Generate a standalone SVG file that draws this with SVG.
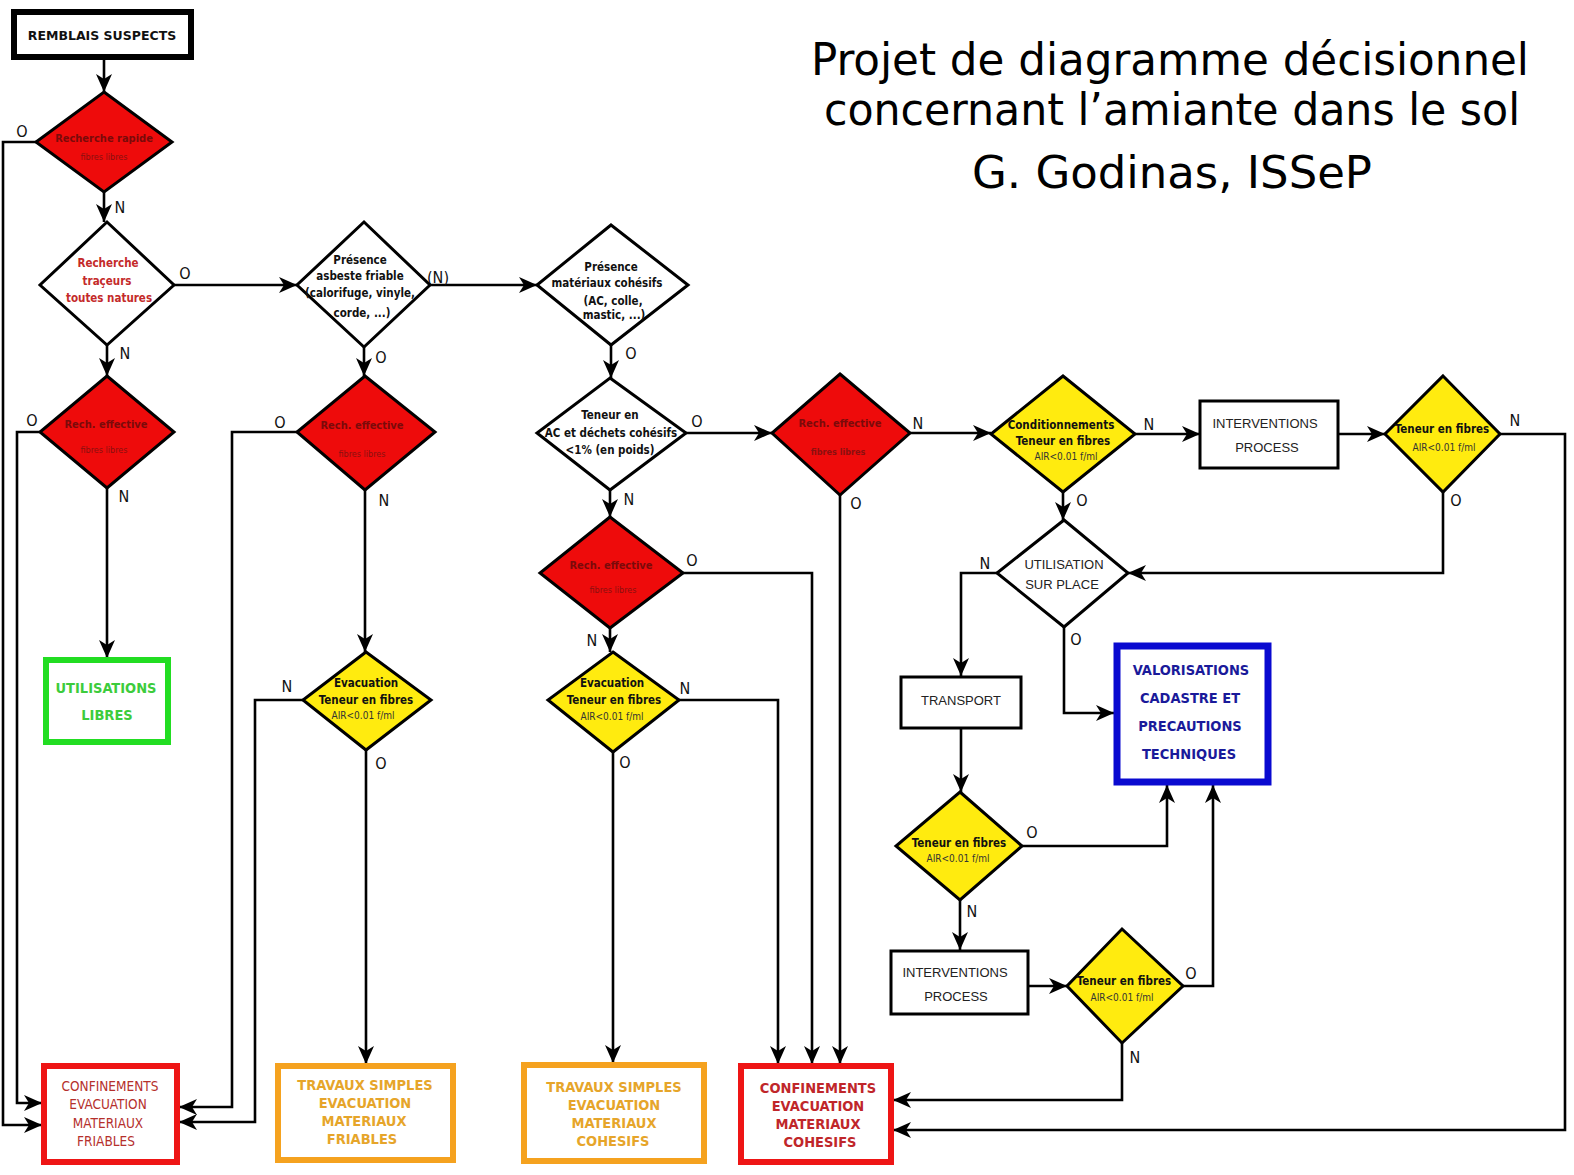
<svg xmlns="http://www.w3.org/2000/svg" width="1574" height="1175" viewBox="0 0 1574 1175">
<style>
.dia{stroke:#000;stroke-width:3;stroke-linejoin:miter}
.red{fill:#ee0b0b}
.yel{fill:#ffeb0f}
.wht{fill:#fff}
.box{fill:#fff;stroke:#000;stroke-width:3}
.conn{fill:none;stroke:#000;stroke-width:2.6;marker-end:url(#ah)}
text{font-family:"DejaVu Sans Condensed","DejaVu Sans",sans-serif;text-anchor:middle}
.b{font-weight:bold}
.rt{fill:#7a0a0a;font-size:11px}
.rs{fill:#8a1010;font-size:9px}
.k{fill:#111;font-size:11.5px;font-weight:bold}
.ys{fill:#333;font-size:10px}
.lab{font-family:"Liberation Sans",Arial,sans-serif;font-size:16px;fill:#111}
.n{font-family:"Liberation Sans Narrow","Liberation Sans",sans-serif;font-size:13px;fill:#222}
</style>
<defs>
<marker id="ah" markerUnits="userSpaceOnUse" markerWidth="20" markerHeight="18" refX="18" refY="8" orient="auto">
<path d="M0,0 L18,8 L0,16 L5,8 z" fill="#000"/>
</marker>
</defs>
<rect width="1574" height="1175" fill="#fff"/>

<g id="title" font-family="'DejaVu Sans',sans-serif" fill="#000">
<text x="1170" y="75" font-size="44" textLength="718" lengthAdjust="spacingAndGlyphs">Projet de diagramme décisionnel</text>
<text x="1172" y="125" font-size="44" textLength="696" lengthAdjust="spacingAndGlyphs">concernant l’amiante dans le sol</text>
<text x="1172" y="188" font-size="44" textLength="400" lengthAdjust="spacingAndGlyphs">G. Godinas, ISSeP</text>
</g>

<g id="connectors">
<path class="conn" d="M104,58 V92"/>
<path class="conn" d="M36,142 H3 V1125 H42"/>
<path class="conn" d="M104,192 V222"/>
<path class="conn" d="M174,285 H297"/>
<path class="conn" d="M107,345 V376"/>
<path class="conn" d="M40,432 H17 V1103 H42"/>
<path class="conn" d="M107,488 V658"/>
<path class="conn" d="M430,285 H537"/>
<path class="conn" d="M364,347 V376"/>
<path class="conn" d="M297,432 H232 V1107 H179"/>
<path class="conn" d="M365,490 V652"/>
<path class="conn" d="M303,700 H255 V1122 H179"/>
<path class="conn" d="M366,750 V1064"/>
<path class="conn" d="M611,345 V378"/>
<path class="conn" d="M686,433 H772"/>
<path class="conn" d="M610,490 V517"/>
<path class="conn" d="M683,573 H812 V1064"/>
<path class="conn" d="M610,628 V652"/>
<path class="conn" d="M679,700 H778 V1064"/>
<path class="conn" d="M613,752 V1063"/>
<path class="conn" d="M840,495 V1064"/>
<path class="conn" d="M910,433 H991"/>
<path class="conn" d="M1135,434 H1200"/>
<path class="conn" d="M1063,492 V520"/>
<path class="conn" d="M1338,434 H1385"/>
<path class="conn" d="M1500,434 H1565 V1130 H893"/>
<path class="conn" d="M1443,492 V573 H1128"/>
<path class="conn" d="M997,573 H961 V676"/>
<path class="conn" d="M1064,627 V713 H1114"/>
<path class="conn" d="M961,728 V792"/>
<path class="conn" d="M1022,846 H1167 V785"/>
<path class="conn" d="M960,900 V950"/>
<path class="conn" d="M1028,986 H1067"/>
<path class="conn" d="M1183,986 H1213 V785"/>
<path class="conn" d="M1122,1043 V1100 H893"/>
<g class="lab">
<text x="22" y="137">O</text>
<text x="120" y="213">N</text>
<text x="185" y="279">O</text>
<text x="125" y="359">N</text>
<text x="32" y="426">O</text>
<text x="124" y="502">N</text>
<text x="438" y="283">(N)</text>
<text x="381" y="363">O</text>
<text x="280" y="428">O</text>
<text x="384" y="506">N</text>
<text x="287" y="692">N</text>
<text x="381" y="769">O</text>
<text x="631" y="359">O</text>
<text x="697" y="427">O</text>
<text x="629" y="505">N</text>
<text x="692" y="566">O</text>
<text x="592" y="646">N</text>
<text x="685" y="694">N</text>
<text x="625" y="768">O</text>
<text x="856" y="509">O</text>
<text x="918" y="429">N</text>
<text x="1149" y="430">N</text>
<text x="1082" y="506">O</text>
<text x="1515" y="426">N</text>
<text x="1456" y="506">O</text>
<text x="985" y="569">N</text>
<text x="1076" y="645">O</text>
<text x="1032" y="838">O</text>
<text x="972" y="917">N</text>
<text x="1191" y="979">O</text>
<text x="1135" y="1063">N</text>
</g>
</g>

<g id="remblais">
<rect x="14" y="12" width="177" height="45" fill="#fff" stroke="#000" stroke-width="6"/>
<text x="102" y="40" class="b" font-size="12.5" fill="#111" style="font-family:'DejaVu Sans',sans-serif">REMBLAIS SUSPECTS</text>
</g>

<g id="d1">
<polygon class="dia red" points="104,92 172,142 104,192 36,142"/>
<text x="104" y="142" class="rt b">Recherche rapide</text>
<text x="104" y="160" class="rs">fibres libres</text>
</g>

<g id="d2">
<polygon class="dia wht" points="107,222 174,285 107,345 40,285"/>
<text x="108" y="267" class="b" font-size="11.5" fill="#c42a2a">Recherche</text>
<text x="107" y="285" class="b" font-size="11.5" fill="#c42a2a">traçeurs</text>
<text x="109" y="302" class="b" font-size="11.5" fill="#c42a2a">toutes natures</text>
</g>

<g id="d3">
<polygon class="dia red" points="107,376 174,432 107,488 40,432"/>
<text x="106" y="428" class="rt b">Rech. effective</text>
<text x="104" y="453" class="rs">fibres libres</text>
</g>

<g id="utilisations-libres">
<rect x="46" y="660" width="122" height="82" fill="#fff" stroke="#22dd22" stroke-width="6"/>
<text x="106" y="693" class="b" font-size="14.5" fill="#3ccc3c">UTILISATIONS</text>
<text x="107" y="720" class="b" font-size="14.5" fill="#3ccc3c">LIBRES</text>
</g>

<g id="conf-friables">
<rect x="44" y="1066" width="133" height="96" fill="#fff" stroke="#ee1515" stroke-width="6"/>
<g font-size="13.5" fill="#b5302c">
<text x="110" y="1091">CONFINEMENTS</text>
<text x="108" y="1109">EVACUATION</text>
<text x="108" y="1128">MATERIAUX</text>
<text x="106" y="1146">FRIABLES</text>
</g>
</g>

<g id="d4">
<polygon class="dia wht" points="364,222 430,285 364,347 297,285"/>
<text x="360" y="264" class="k">Présence</text>
<text x="360" y="280" class="k">asbeste friable</text>
<text x="360" y="297" class="k">(calorifuge, vinyle,</text>
<text x="362" y="317" class="k">corde, ...)</text>
</g>

<g id="d5">
<polygon class="dia red" points="365,376 435,432 365,490 297,432"/>
<text x="362" y="429" class="rt b">Rech. effective</text>
<text x="362" y="457" class="rs">fibres libres</text>
</g>

<g id="d6">
<polygon class="dia yel" points="366,652 431,700 366,750 303,700"/>
<text x="366" y="687" class="k">Evacuation</text>
<text x="366" y="704" class="k">Teneur en fibres</text>
<text x="363" y="719" class="ys">AIR&lt;0.01 f/ml</text>
</g>

<g id="travaux-friables">
<rect x="278" y="1066" width="175" height="94" fill="#fff" stroke="#f5a21f" stroke-width="6"/>
<g class="b" font-size="14.5" fill="#e6a52a">
<text x="365" y="1090">TRAVAUX SIMPLES</text>
<text x="365" y="1108">EVACUATION</text>
<text x="364" y="1126">MATERIAUX</text>
<text x="362" y="1144">FRIABLES</text>
</g>
</g>

<g id="d7">
<polygon class="dia wht" points="611,225 688,285 611,345 537,285"/>
<text x="611" y="271" class="k">Présence</text>
<text x="607" y="287" class="k">matériaux cohésifs</text>
<text x="613" y="305" class="k">(AC, colle,</text>
<text x="614" y="319" class="k">mastic, ...)</text>
</g>

<g id="d8">
<polygon class="dia wht" points="610,378 686,433 610,490 537,433"/>
<text x="610" y="419" class="k">Teneur en</text>
<text x="611" y="437" class="k">AC et déchets cohésifs</text>
<text x="610" y="454" class="k">&lt;1% (en poids)</text>
</g>

<g id="d9">
<polygon class="dia red" points="610,517 683,573 610,628 540,573"/>
<text x="611" y="569" class="rt b">Rech. effective</text>
<text x="613" y="593" class="rs">fibres libres</text>
</g>

<g id="d10">
<polygon class="dia yel" points="613,652 679,700 613,752 548,700"/>
<text x="612" y="687" class="k">Evacuation</text>
<text x="614" y="704" class="k">Teneur en fibres</text>
<text x="612" y="720" class="ys">AIR&lt;0.01 f/ml</text>
</g>

<g id="travaux-cohesifs">
<rect x="524" y="1065" width="180" height="96" fill="#fff" stroke="#f5a21f" stroke-width="6"/>
<g class="b" font-size="14.5" fill="#e6a52a">
<text x="614" y="1092">TRAVAUX SIMPLES</text>
<text x="614" y="1110">EVACUATION</text>
<text x="614" y="1128">MATERIAUX</text>
<text x="613" y="1146">COHESIFS</text>
</g>
</g>

<g id="conf-cohesifs">
<rect x="741" y="1066" width="150" height="96" fill="#fff" stroke="#ee1515" stroke-width="6"/>
<g class="b" font-size="14.5" fill="#c0262a">
<text x="818" y="1093">CONFINEMENTS</text>
<text x="818" y="1111">EVACUATION</text>
<text x="818" y="1129">MATERIAUX</text>
<text x="820" y="1147">COHESIFS</text>
</g>
</g>

<g id="d11">
<polygon class="dia red" points="840,374 910,433 840,495 772,433"/>
<text x="840" y="427" class="rt b">Rech. effective</text>
<text x="838" y="455" class="rs b">fibres libres</text>
</g>

<g id="d12">
<polygon class="dia yel" points="1063,376 1135,434 1063,492 991,434"/>
<text x="1061" y="429" class="k" font-size="11">Conditionnements</text>
<text x="1063" y="445" class="k" font-size="11">Teneur en fibres</text>
<text x="1066" y="460" class="ys">AIR&lt;0.01 f/ml</text>
</g>

<g id="interventions1">
<rect x="1200" y="401" width="138" height="67" class="box"/>
<text x="1265" y="428" class="n">INTERVENTIONS</text>
<text x="1267" y="452" class="n">PROCESS</text>
</g>

<g id="d13">
<polygon class="dia yel" points="1443,376 1500,434 1443,492 1385,434"/>
<text x="1442" y="433" class="k" font-size="11">Teneur en fibres</text>
<text x="1444" y="451" class="ys">AIR&lt;0.01 f/ml</text>
</g>

<g id="d14">
<polygon class="dia wht" points="1064,520 1128,573 1064,627 997,573"/>
<text x="1064" y="569" class="n" font-size="12.5">UTILISATION</text>
<text x="1062" y="589" class="n" font-size="12.5">SUR PLACE</text>
</g>

<g id="transport">
<rect x="901" y="677" width="120" height="51" class="box"/>
<text x="961" y="705" class="n" font-size="12.5">TRANSPORT</text>
</g>

<g id="valorisations">
<rect x="1117" y="646" width="151" height="136" fill="#fff" stroke="#0a0ad0" stroke-width="7"/>
<g class="b" font-size="14.5" fill="#1a1a9a">
<text x="1191" y="675">VALORISATIONS</text>
<text x="1190" y="703">CADASTRE ET</text>
<text x="1190" y="731">PRECAUTIONS</text>
<text x="1189" y="759">TECHNIQUES</text>
</g>
</g>

<g id="d15">
<polygon class="dia yel" points="960,792 1022,846 960,900 896,846"/>
<text x="959" y="847" class="k" font-size="11">Teneur en fibres</text>
<text x="958" y="862" class="ys">AIR&lt;0.01 f/ml</text>
</g>

<g id="interventions2">
<rect x="891" y="951" width="137" height="63" class="box"/>
<text x="955" y="977" class="n">INTERVENTIONS</text>
<text x="956" y="1001" class="n">PROCESS</text>
</g>

<g id="d16">
<polygon class="dia yel" points="1122,929 1183,986 1122,1043 1067,986"/>
<text x="1124" y="985" class="k" font-size="11">Teneur en fibres</text>
<text x="1122" y="1001" class="ys">AIR&lt;0.01 f/ml</text>
</g>
</svg>
